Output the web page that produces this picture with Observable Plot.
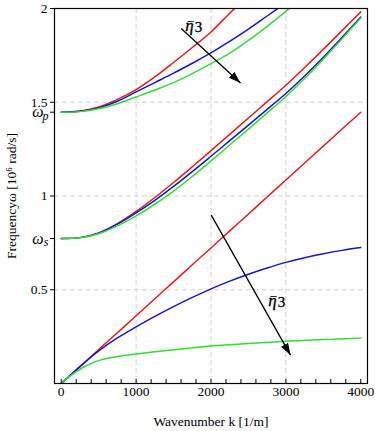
<!DOCTYPE html>
<html>
<head>
<meta charset="utf-8">
<script src="https://cdn.jsdelivr.net/npm/d3@7"></script>
<script src="https://cdn.jsdelivr.net/npm/@observablehq/plot@0.6"></script>
<style>
  html, body { margin: 0; padding: 0; background: white; }
  #chart svg, #chart svg text { font-family: "Liberation Serif", "Times New Roman", "DejaVu Serif", serif !important; }
</style>
</head>
<body>
<div id="chart"></div>
<script>
// ---- data ----
const kGrid = [0, 250, 500, 750, 1000, 1250, 1500, 1750, 2000, 2250, 2500, 2750, 3000, 3250, 3500, 3750, 4000];
const kGreenLow = [0, 100, 200, 300, 400, 500, 750, 1000, 1250, 1500, 1750, 2000, 2500, 3000, 3500, 4000];

// lowest branch (starts at 0)
const lowRed   = [0, 0.09, 0.181, 0.271, 0.361, 0.452, 0.542, 0.633, 0.723, 0.814, 0.904, 0.995, 1.085, 1.176, 1.266, 1.357, 1.447];
const lowBlue  = [0, 0.09, 0.174, 0.243, 0.302, 0.358, 0.41, 0.459, 0.505, 0.546, 0.583, 0.616, 0.646, 0.671, 0.692, 0.71, 0.725];
const lowGreen = [0, 0.034, 0.062, 0.088, 0.107, 0.122, 0.144, 0.157, 0.169, 0.18, 0.19, 0.2, 0.213, 0.225, 0.234, 0.242];

// middle branch (starts at omega_s)
const midRed   = [0.773, 0.778, 0.803, 0.853, 0.918, 0.992, 1.072, 1.156, 1.242, 1.329, 1.416, 1.503, 1.591, 1.685, 1.782, 1.882, 1.982];
const midBlue  = [0.773, 0.778, 0.802, 0.85, 0.91, 0.977, 1.051, 1.13, 1.212, 1.295, 1.378, 1.462, 1.547, 1.64, 1.74, 1.846, 1.955];
const midGreen = [0.773, 0.777, 0.799, 0.841, 0.894, 0.956, 1.026, 1.104, 1.187, 1.272, 1.357, 1.443, 1.531, 1.627, 1.73, 1.839, 1.949];

// upper branch (starts at omega_p)
const topRed   = [1.447, 1.453, 1.475, 1.515, 1.567, 1.635, 1.712, 1.792, 1.875, 1.975, 2.07];
const topBlue  = [1.447, 1.452, 1.47, 1.505, 1.555, 1.605, 1.655, 1.708, 1.763, 1.825, 1.89, 1.96, 2.03];
const topGreen = [1.447, 1.45, 1.465, 1.492, 1.528, 1.565, 1.605, 1.653, 1.706, 1.762, 1.83, 1.905, 1.985, 2.07];

const omegaS = 0.773;
const omegaP = 1.447;
const xTicks = [0, 1000, 2000, 3000, 4000];
const xMinorTicks = d3.range(0, 4001, 200);
const yTicks = [0.5, 1, 1.5, 2];
const omegaLabels = [{v: omegaS, sub: "s"}, {v: omegaP, sub: "p"}];
const gridXValues = [1000, 2000, 3000];
const gridYValues = [0.5, 1, 1.5];

const arrows = [
  {k1: 1602, w1: 1.893, k2: 2394, w2: 1.603},
  {k1: 2003, w1: 0.898, k2: 3062, w2: 0.151}
];
const arrowLabels = [
  {k: 1766, w: 1.911},
  {k: 2875, w: 0.444}
];

const RED = "#e41c1c", BLUE = "#1616d2", GREEN = "#33dd33";

const series = [
  {id: "lowRed", color: RED, k: kGrid, w: lowRed},
  {id: "midRed", color: RED, k: kGrid, w: midRed},
  {id: "topRed", color: RED, k: kGrid, w: topRed},
  {id: "lowBlue", color: BLUE, k: kGrid, w: lowBlue},
  {id: "midBlue", color: BLUE, k: kGrid, w: midBlue},
  {id: "topBlue", color: BLUE, k: kGrid, w: topBlue},
  {id: "lowGreen", color: GREEN, k: kGreenLow, w: lowGreen},
  {id: "midGreen", color: GREEN, k: kGrid, w: midGreen},
  {id: "topGreen", color: GREEN, k: kGrid, w: topGreen}
];
const lineData = series.flatMap(s => s.w.map((w, i) => ({k: s.k[i], w, id: s.id, color: s.color})));

function filledHead(color) {
  const m = d3.create("svg:marker")
    .attr("viewBox", "-12 -5 12 10")
    .attr("markerWidth", 12)
    .attr("markerHeight", 10)
    .attr("markerUnits", "userSpaceOnUse")
    .attr("orient", "auto")
    .attr("fill", color)
    .attr("stroke", "none");
  m.append("path").attr("d", "M-12,-4L0,0L-12,4Z");
  return m.node();
}

const SERIF = "'Liberation Serif', 'Times New Roman', 'DejaVu Serif', serif";

const chart = Plot.plot({
  width: 375,
  height: 431,
  marginLeft: 54,
  marginRight: 8,
  marginTop: 8,
  marginBottom: 48,
  style: `font-family: ${SERIF}; font-size: 13.5px; background: white; color: black;`,
  x: {domain: [-90, 4090]},
  y: {domain: [0, 2]},
  color: {type: "identity"},
  marks: [
    Plot.gridX(gridXValues, {stroke: "#cfcfcf", strokeOpacity: 1, strokeDasharray: "5,3"}),
    Plot.gridY(gridYValues, {stroke: "#cfcfcf", strokeOpacity: 1, strokeDasharray: "5,3"}),
    Plot.line(lineData, {x: "k", y: "w", z: "id", stroke: "color", strokeWidth: 1.5, clip: true, curve: "catmull-rom"}),
    Plot.link(arrows, {x1: "k1", y1: "w1", x2: "k2", y2: "w2", stroke: "black", strokeWidth: 1.3, markerEnd: filledHead}),
    // eta-bar-3 labels: italic eta with overbar, then 3
    Plot.text(arrowLabels, {x: "k", y: "w", text: () => "\u03B7", dx: -4, fontSize: 17, fontStyle: "italic", fontFamily: SERIF, fill: "black", stroke: "black", strokeWidth: 0.3}),
    Plot.text(arrowLabels, {x: "k", y: "w", text: () => "3", dx: 5, dy: 2, fontSize: 15, fontFamily: SERIF, fill: "black", stroke: "black", strokeWidth: 0.3}),
    Plot.text(arrowLabels, {x: "k", y: "w", text: () => "\u203E", dx: -3, dy: 3, fontSize: 15, fontFamily: SERIF, fill: "black", stroke: "black", strokeWidth: 0.3}),
    Plot.frame({stroke: "black", strokeWidth: 1.2}),
    Plot.ruleX(xMinorTicks, {stroke: "black", insetTop: 371}),
    Plot.axisX(xTicks, {tickSize: 0, tickPadding: 3, fontFamily: SERIF, label: "Wavenumber k [1/m]", labelAnchor: "center", labelArrow: "none", labelOffset: 42, tickFormat: d => String(d)}),
    Plot.axisY([...yTicks, omegaS, omegaP], {tickSize: 4, tickPadding: 3, fontFamily: SERIF, tickFormat: d => yTicks.includes(d) ? String(d) : "", label: "Frequency\u03C9 [10\u2076 rad/s]", labelAnchor: "center", labelArrow: "none", labelOffset: 48}),
    Plot.text(omegaLabels, {y: "v", text: () => "\u03C9", frameAnchor: "left", textAnchor: "end", dx: -11, fontStyle: "italic", fontSize: 16, fontFamily: SERIF}),
    Plot.text(omegaLabels, {y: "v", text: "sub", frameAnchor: "left", textAnchor: "end", dx: -6, dy: 4, fontStyle: "italic", fontSize: 12, fontFamily: SERIF})
  ]
});
document.getElementById("chart").appendChild(chart);
</script>
</body>
</html>
